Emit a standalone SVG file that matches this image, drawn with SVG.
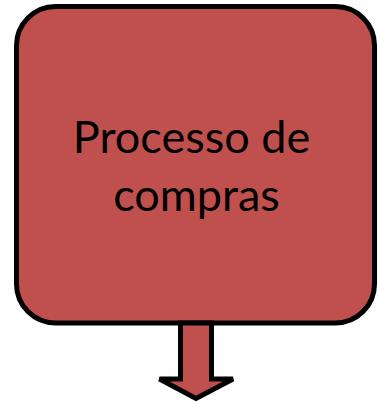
<svg xmlns="http://www.w3.org/2000/svg" width="378" height="404" viewBox="0 0 378 404">
<style>
.shape{fill:#C0504D;stroke:#000;stroke-width:5;stroke-linejoin:miter}
.lbl{font-family:Lato,"Open Sans",sans-serif;font-size:45px;fill:#000;text-anchor:middle}
</style>
<g id="node-processo">
<rect class="shape" x="16.5" y="6.5" width="358" height="316.5" rx="39" ry="39"/>
<text class="lbl" x="191.5" y="153">Processo de</text>
<text class="lbl" x="196.5" y="211">compras</text>
</g>
<g id="connectors">
<polygon class="shape" points="180.5,323 211.5,323 211.5,379 233,379 196,398.5 159.5,379 180.5,379"/>
</g>
</svg>
